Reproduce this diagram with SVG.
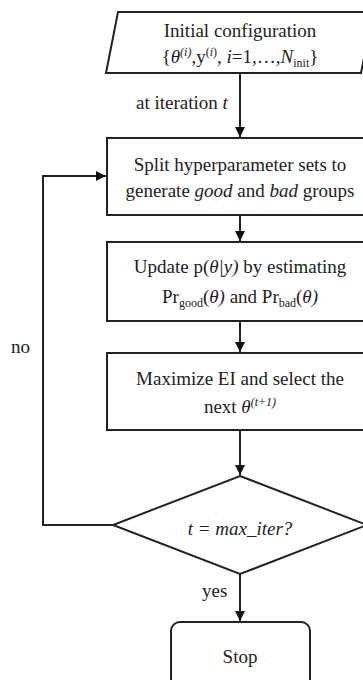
<svg xmlns="http://www.w3.org/2000/svg" width="363" height="680" viewBox="0 0 363 680">
<style>
.shape{fill:#fff;stroke:#222;stroke-width:2}
.conn{fill:none;stroke:#222;stroke-width:2}
text{font-family:"Liberation Serif","Times New Roman",serif;font-size:19px;fill:#222}
.c{text-anchor:middle}
.it{font-style:italic}
.sm{font-size:12px}
</style>
<defs>
<marker id="ah" viewBox="0 0 10 10" refX="10" refY="5" markerWidth="5" markerHeight="5" markerUnits="strokeWidth" orient="auto">
<path d="M0,0 L10,5 L0,10 z" fill="#111"/>
</marker>
</defs>
<rect width="363" height="680" fill="#fff"/>
<g id="connectors">
<line class="conn" x1="240" y1="73" x2="240" y2="137" marker-end="url(#ah)"/>
<line class="conn" x1="240" y1="215" x2="240" y2="241" marker-end="url(#ah)"/>
<line class="conn" x1="240" y1="321" x2="240" y2="352" marker-end="url(#ah)"/>
<line class="conn" x1="240" y1="430" x2="240" y2="475" marker-end="url(#ah)"/>
<line class="conn" x1="240" y1="574" x2="240" y2="621" marker-end="url(#ah)"/>
<polyline class="conn" points="113,525 43,525 43,176 106,176" marker-end="url(#ah)"/>
<text x="136" y="109">at iteration <tspan class="it">t</tspan></text>
<text x="11" y="353">no</text>
<text x="202" y="597">yes</text>
</g>
<g id="init">
<polygon class="shape" points="118,12 373,12 361,73 106,73"/>
<text class="c" x="240" y="37">Initial configuration</text>
<text class="c" x="240" y="63">{<tspan class="it">θ</tspan><tspan class="it sm" dy="-7">(i)</tspan><tspan dy="7">,y</tspan><tspan class="sm" dy="-7">(<tspan class="it">i</tspan>)</tspan><tspan dy="7">, </tspan><tspan class="it">i</tspan>=1,…,<tspan class="it">N</tspan><tspan class="sm" dy="4">init</tspan><tspan dy="-4">}</tspan></text>
</g>
<g id="split">
<rect class="shape" x="107" y="138" width="266" height="77"/>
<text class="c" x="240" y="171">Split hyperparameter sets to</text>
<text class="c" x="240" y="197">generate <tspan class="it">good</tspan> and <tspan class="it">bad</tspan> groups</text>
</g>
<g id="update">
<rect class="shape" x="107" y="242" width="266" height="79"/>
<text class="c" x="240" y="273">Update p(<tspan class="it">θ|y)</tspan> by estimating</text>
<text class="c" x="240" y="303">Pr<tspan class="sm" dy="4">good</tspan><tspan dy="-4">(</tspan><tspan class="it">θ)</tspan> and Pr<tspan class="sm" dy="4">bad</tspan><tspan dy="-4">(</tspan><tspan class="it">θ)</tspan></text>
</g>
<g id="maximize">
<rect class="shape" x="107" y="353" width="266" height="77"/>
<text class="c" x="240" y="385">Maximize EI and select the</text>
<text class="c" x="240" y="413">next <tspan class="it">θ</tspan><tspan class="it sm" dy="-7">(t+1)</tspan></text>
</g>
<g id="decision">
<polygon class="shape" points="240,476 367,525 240,574 113,525"/>
<text class="c it" x="240" y="535">t = max_iter?</text>
</g>
<g id="stop">
<rect class="shape" x="171" y="622" width="139" height="80" rx="9" ry="9"/>
<text class="c" x="240" y="663">Stop</text>
</g>
</svg>
